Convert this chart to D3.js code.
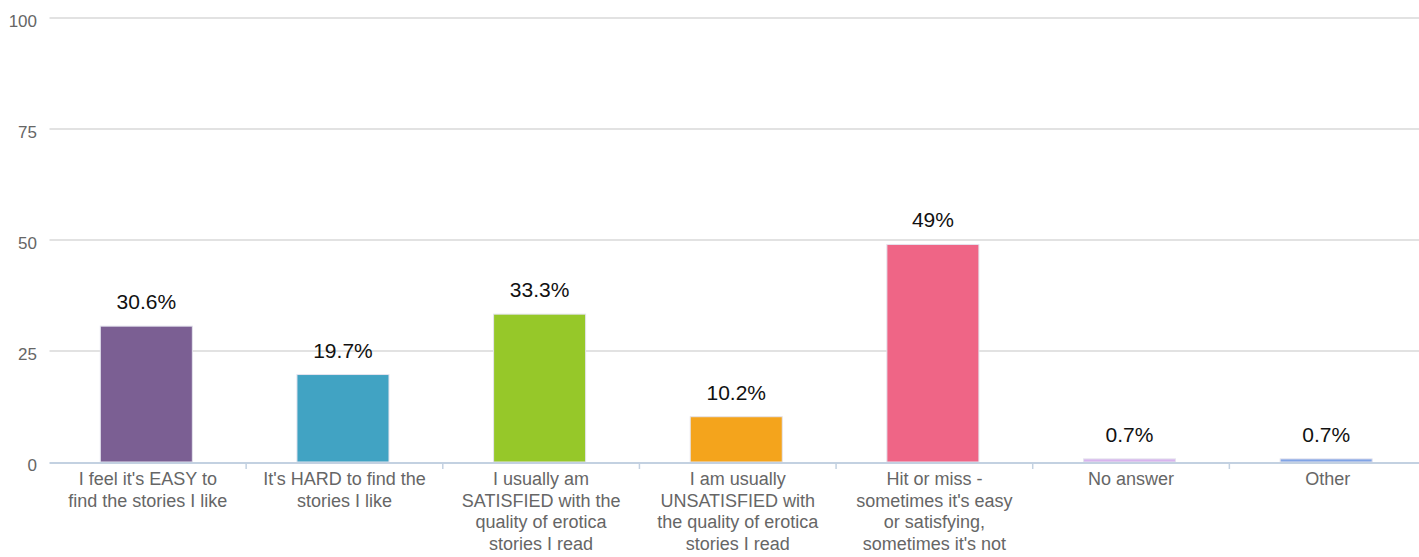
<!DOCTYPE html>
<html><head><meta charset="utf-8">
<script src="https://cdn.jsdelivr.net/npm/d3@7"></script>
<style>body{margin:0;background:#fff;} svg{display:block;font-family:"Liberation Sans",Arial,sans-serif;}</style>
</head><body>
<svg id="c" width="1419" height="557"></svg>
<script>
const categories = [
  ["I feel it's EASY to","find the stories I like"],
  ["It's HARD to find the","stories I like"],
  ["I usually am","SATISFIED with the","quality of erotica","stories I read"],
  ["I am usually","UNSATISFIED with","the quality of erotica","stories I read"],
  ["Hit or miss -","sometimes it's easy","or satisfying,","sometimes it's not"],
  ["No answer"],
  ["Other"]
];
const values = [30.6, 19.7, 33.3, 10.2, 49, 0.7, 0.7];
const valueLabels = ["30.6%","19.7%","33.3%","10.2%","49%","0.7%","0.7%"];
const colors = ["#7b5f93","#41a3c3","#96c829","#f4a41c","#ef6586","#d8b4ee","#80a4e6"];
const yTicks = [0,25,50,75,100];

(function(){
const svg = d3.select("#c");
const mLeft = 49.5, mRight = 1426, gridRight = 1419, mTop = 18, mBottom = 462;
const x = d3.scaleBand().domain(d3.range(categories.length)).range([mLeft, mRight]).paddingInner(0.532).paddingOuter(0.266);
const xb = d3.scaleBand().domain(d3.range(categories.length)).range([mLeft, mRight]);
const y = d3.scaleLinear().domain([0,100]).range([mBottom, mTop]);

svg.append("g").selectAll("line").data(yTicks.filter(d=>d>0)).join("line")
  .attr("x1", mLeft).attr("x2", gridRight).attr("y1", d=>y(d)).attr("y2", d=>y(d))
  .attr("stroke", "#c6c6c6").attr("stroke-width", 1.2);

svg.append("g").selectAll("text").data(yTicks).join("text")
  .attr("x", 37).attr("y", d=>y(d)+9).attr("text-anchor","end")
  .attr("font-size", 17).attr("fill", "#666").text(d=>d);

svg.append("g").selectAll("rect").data(values).join("rect")
  .attr("x", (d,i)=>x(i)-1.5).attr("width", x.bandwidth())
  .attr("y", d=>y(d)).attr("height", d=>y(0)-y(d))
  .attr("fill", (d,i)=>colors[i]).attr("stroke","#e4e4ee").attr("stroke-width",1);

svg.append("line").attr("x1", mLeft).attr("x2", gridRight).attr("y1", mBottom+1).attr("y2", mBottom+1)
  .attr("stroke", "#c3d1e1").attr("stroke-width", 2);
svg.append("g").selectAll("line").data(d3.range(1, categories.length)).join("line")
  .attr("x1", i=>xb(i)).attr("x2", i=>xb(i)).attr("y1", mBottom).attr("y2", mBottom+7)
  .attr("stroke", "#c3d1e1").attr("stroke-width", 1.5);

svg.append("g").selectAll("text").data(values).join("text")
  .attr("x", (d,i)=>x(i)-1.5+x.bandwidth()/2).attr("y", d=>y(d)-17)
  .attr("text-anchor","middle").attr("font-size", 21).attr("fill","#111")
  .text((d,i)=>valueLabels[i]);

const cg = svg.append("g").selectAll("text").data(categories).join("text")
  .attr("text-anchor","middle").attr("font-size", 18).attr("fill","#666");
cg.selectAll("tspan").data((d,i)=>d.map(t=>({t,i}))).join("tspan")
  .attr("x", d=>xb(d.i)+xb.bandwidth()/2)
  .attr("y", (d,j)=>mBottom+23+j*21.7)
  .text(d=>d.t);
})();
</script>
</body></html>
